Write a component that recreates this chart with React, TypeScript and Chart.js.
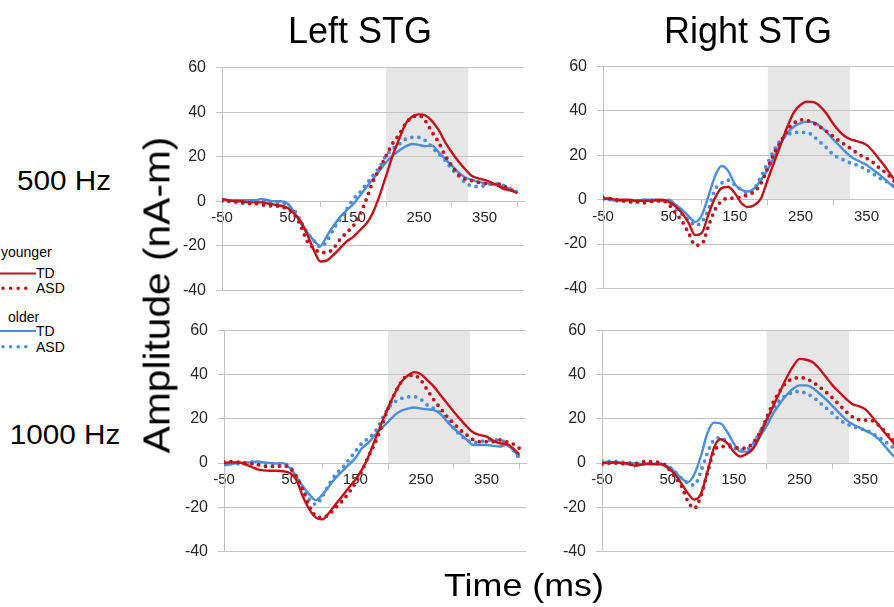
import React, { useEffect, useRef } from 'react';
import { Chart, registerables } from 'chart.js';

Chart.register(...registerables);

const FONT = '"Liberation Sans", Arial, Helvetica, sans-serif';
Chart.defaults.font.family = FONT;

// ---------- data ----------
const TIMES = [-50, -40, -30, -20, -10, 0, 10, 20, 30, 40, 50, 60, 70, 80, 90, 100, 110, 120, 130, 140, 150, 160, 170, 180, 190, 200, 210, 220, 230, 240, 250, 260, 270, 280, 290, 300, 310, 320, 330, 340, 350, 360, 370, 380, 390, 400];

const TL_YOUNGER_TD = [1, 0.5, 0, 0, -0.5, -0.5, -0.5, -1, -1.5, -2, -3, -5.5, -9, -15, -22, -27, -26.5, -24, -21, -18, -16, -13, -10, -5, 2.5, 11.5, 20.5, 28, 35, 38, 39, 38.5, 36, 32, 26.5, 22, 18, 14.5, 11.5, 10.3, 9.6, 8.5, 7, 5.5, 4.8, 3.7];
const TL_YOUNGER_ASD = [0.5, 0, 0, -0.5, -1, -1, -1.5, -2, -2, -2.5, -3.5, -6, -11, -18, -21, -23, -23, -21, -17, -14, -11, -6, 1, 9, 14.5, 20.5, 26, 30, 35, 37.7, 38.5, 36, 31, 26.5, 20.5, 16, 12, 10, 9.3, 8.5, 8, 7.8, 7.8, 6.7, 5.2, 4];
const TL_OLDER_TD = [1, 0.5, 0.5, 0.5, 0.5, 0.5, 1, 0.5, 0, 0, -1, -5, -10, -14, -17.7, -20, -15.4, -11, -7, -4, -1.2, 2.5, 6.3, 10, 13.8, 17.5, 20.5, 22.8, 24.7, 25.7, 25.3, 24.7, 25, 22, 19, 16, 13, 10.8, 9.7, 8.8, 8.2, 7.8, 7.3, 6.3, 5.2, 3.7];
const TL_OLDER_ASD = [0, 0, -0.5, -1, -0.5, 0, 0, -0.5, -0.5, -0.5, -2, -4, -9, -14, -17.7, -20.5, -17.7, -12.4, -8, -3.5, 1, 4, 7.8, 11.5, 15.3, 20.5, 23.5, 25.7, 28, 28.7, 28.7, 27.2, 24.2, 21.3, 18.3, 14.5, 11.5, 8.5, 7, 6.6, 7, 7.8, 7.8, 7, 5.5, 4];

const TR_YOUNGER_TD = [0.5, 0.5, 0, 0, 0, -0.5, -0.5, -0.5, 0, 0, -1, -3, -6, -10.5, -16, -15, -6.7, 0.7, 5.2, 5.7, 3, -1.5, -3.3, -2.4, 0.7, 9, 17, 25, 33, 39.5, 42.8, 44.2, 44, 42, 38.5, 34, 30.5, 28, 26.8, 26, 24.7, 21.7, 18, 14.2, 10, 6];
const TR_YOUNGER_ASD = [1, 0.5, 0, -0.5, -1, -1, -1.5, -1, -0.5, -0.5, -2.2, -6, -9.7, -15, -20.5, -20, -12, -4.5, -0.7, 0.7, 0.7, 1.2, 2.2, 3.7, 7.5, 14.2, 21, 26.2, 31.5, 34.5, 36, 35.7, 34.5, 32.7, 30.7, 28.5, 26.2, 24.3, 22.2, 20.2, 18.7, 16.8, 14.2, 12, 9, 6];
const TR_OLDER_TD = [0.5, 0, -0.5, -0.5, -0.5, -0.5, 0, 0, -0.5, -0.5, 0, -2.2, -4.5, -7.5, -10, -7, 1.5, 10.5, 15.2, 13, 7, 4.5, 3.7, 5.2, 9, 13.5, 19.5, 25.5, 30, 33, 34.5, 35.2, 34.8, 33, 30.3, 27, 24, 21, 18.7, 17.2, 15.7, 13.5, 11.2, 8.7, 6, 3.5];
const TR_OLDER_ASD = [0, 0, -0.5, -0.5, -0.5, -0.5, -0.5, 0, -0.5, -0.5, -1.2, -3.7, -6.7, -9, -11.5, -10, -4.5, 4.5, 7.5, 8.8, 6.7, 4.5, 3, 5.2, 10.5, 16.5, 22.5, 27, 29.2, 30.3, 30.3, 30.3, 28.5, 25.8, 23.2, 20.2, 18.7, 17.2, 16.2, 15, 13.5, 11.7, 9.7, 8.2, 6.5, 5];

const BL_YOUNGER_TD = [0, 0.3, 0.3, -0.3, -1.5, -2.7, -3.3, -3.5, -3.5, -3.7, -4.5, -7.5, -15, -21, -24.7, -25.5, -22.5, -18.7, -15, -11.2, -7.5, -3, 3, 10.5, 18, 25.2, 31.5, 36.7, 39.7, 41.2, 40.2, 37.5, 34.5, 30.7, 27, 23.2, 19.8, 16.5, 13.8, 12.7, 12, 10.2, 9, 8.7, 6.7, 3.7];
const BL_YOUNGER_ASD = [0.5, 0.7, 0.5, 0, -0.3, -0.5, -1.5, -1.5, -1.5, -1.2, -2.2, -6, -12, -19.5, -24, -24.7, -23.2, -20.2, -17.2, -13.5, -9, -3.7, 3, 9, 16.5, 24.7, 31.5, 36.7, 39.7, 39.7, 37.5, 33, 28.5, 24.7, 21, 18, 15, 12.7, 10.5, 9.7, 9.7, 9.7, 10.5, 9.7, 8.7, 6.7];
const BL_OLDER_TD = [-1, -0.5, 0, 0.3, 0.3, 0.7, 0.3, 0, -0.2, 0, -2.2, -6, -10.5, -14.2, -16.8, -14.2, -10.5, -6.7, -3.7, -0.7, 2.2, 6.7, 9.3, 12.7, 15.7, 18.7, 21.7, 23.7, 24.7, 25.2, 24.7, 24.3, 24, 22.2, 18.7, 15.7, 13.2, 10.5, 8.2, 8.2, 8.2, 7.8, 7.5, 8.2, 6, 2.7];
const BL_OLDER_ASD = [0, -0.3, -0.3, 0, 0.5, 0.3, 0, -0.3, -0.3, -0.3, -1.5, -6, -11.2, -16.5, -18.7, -15, -9.7, -5.2, -2.2, 1.5, 5.2, 9, 11.2, 14.2, 19.5, 24.7, 27.7, 29.2, 30, 30, 28.8, 26.2, 24.7, 22.5, 19.5, 15.7, 12.7, 10.5, 9.3, 9.7, 10.2, 10.5, 10.5, 9, 6, 2.2];

const BR_YOUNGER_TD = [0, 0, 0.3, 0, -0.3, -1.2, -0.7, -0.3, -0.5, -0.5, -2.2, -4.8, -9, -13.5, -16.5, -14, -4, 7, 10.8, 9, 5.2, 3, 4.2, 6.7, 12.7, 19.5, 25.8, 32.2, 38.5, 43.8, 47.2, 46.8, 45.7, 42.7, 39, 35.2, 32.2, 29.2, 26.7, 25.8, 24.3, 21, 17.2, 13.5, 10, 6];
const BR_YOUNGER_ASD = [-0.5, 0, 0, -0.3, -0.5, -0.3, 0.5, 0.7, 0.5, 0, -2.2, -6, -10, -17, -20.5, -15, -4.5, 5.2, 7.5, 7.5, 7.2, 6.7, 7, 9.5, 14, 20.5, 27.5, 32.7, 36.5, 38.2, 38.7, 38.2, 36.7, 34.5, 32.2, 29.5, 26.5, 23.5, 21, 19.7, 19.5, 19.2, 17.2, 14.2, 11, 8];
const BR_OLDER_TD = [0.5, 0.5, 0.3, 0, 0, 0, -0.3, -0.3, -0.3, -0.3, -1.5, -3.7, -6.7, -8.7, -5.2, 3, 13.5, 18.3, 18, 14.2, 9, 5.2, 5.2, 7.5, 12, 16.8, 22.5, 27, 30.7, 33.7, 35.2, 35.2, 34, 31.5, 28.8, 25.8, 22.8, 19.8, 17.7, 16.2, 14.7, 13.2, 10.8, 7.5, 4, 1];
const BR_OLDER_ASD = [1, 0.8, 0.8, 0.5, 0.3, 0, -0.3, -0.3, -0.3, -0.3, -1.2, -3.7, -6.7, -9, -10, -4, 4.5, 10.5, 11.5, 9.5, 7, 6, 6.2, 9, 14.2, 19.5, 24.7, 28.5, 30.7, 32, 32.5, 31.5, 30, 27.5, 25, 22.5, 19.7, 18, 16.7, 15.7, 15, 13.5, 11.7, 9.7, 7.5, 5];

const Y_TICKS = [-40, -20, 0, 20, 40, 60];
const X_TICKS = [-50, 0, 50, 100, 150, 200, 250, 300, 350, 400];
const X_LABELS = [-50, 50, 150, 250, 350];
const X_TICK_MARKS = [0, 100, 200, 300, 400];
const SHADE_START = 200;
const SHADE_END = 325;
const SHADE_TOP = 60;
const SHADE_BOTTOM = 0;

// ---------- styles ----------
const RED = '#c4121a';
const BLUE = '#4a8ddb';
const GRID = '#c3c3c3';
const SHADE = '#e6e6e6';
const TICK_TEXT = '#262626';

const Y_AXIS_W = 50;
const PAD_T = 14;
const PAD_B = 14;
const PAD_R = 6;
// measured extra offset of the plot area from the canvas edges
const OFF_T = 19;
const OFF_B = 20;

type PanelSpec = {
  axisX: number;
  areaTop: number;
  areaBottom: number;
  areaRight: number;
  series: number[][];
};

const PANELS: PanelSpec[] = [
  { axisX: 222, areaTop: 67, areaBottom: 290, areaRight: 524, series: [TL_YOUNGER_TD, TL_YOUNGER_ASD, TL_OLDER_TD, TL_OLDER_ASD] },
  { axisX: 603, areaTop: 66, areaBottom: 288, areaRight: 906, series: [TR_YOUNGER_TD, TR_YOUNGER_ASD, TR_OLDER_TD, TR_OLDER_ASD] },
  { axisX: 224, areaTop: 330, areaBottom: 551, areaRight: 526, series: [BL_YOUNGER_TD, BL_YOUNGER_ASD, BL_OLDER_TD, BL_OLDER_ASD] },
  { axisX: 602, areaTop: 330, areaBottom: 551, areaRight: 905, series: [BR_YOUNGER_TD, BR_YOUNGER_ASD, BR_OLDER_TD, BR_OLDER_ASD] },
];

const SERIES_STYLE = [
  { color: RED, dotted: false },
  { color: RED, dotted: true },
  { color: BLUE, dotted: false },
  { color: BLUE, dotted: true },
];

const shadePlugin = {
  id: 'shadeWindow',
  beforeDraw(chart: any) {
    const { ctx, scales } = chart;
    const x = scales.x;
    const y = scales.y;
    const x0 = x.getPixelForValue(SHADE_START);
    const x1 = x.getPixelForValue(SHADE_END);
    const y0 = y.getPixelForValue(SHADE_TOP);
    const y1 = y.getPixelForValue(SHADE_BOTTOM);
    ctx.save();
    ctx.fillStyle = SHADE;
    ctx.fillRect(x0, y0, x1 - x0, y1 - y0);
    ctx.restore();
  },
};

function Panel({ spec }: { spec: PanelSpec }) {
  const ref = useRef<HTMLCanvasElement>(null);
  const left = spec.axisX - Y_AXIS_W;
  const top = spec.areaTop - OFF_T;
  const width = spec.areaRight - left + PAD_R;
  const height = spec.areaBottom - spec.areaTop + OFF_T + OFF_B;

  useEffect(() => {
    if (!ref.current) return;
    const datasets = spec.series.map((vals, i) => {
      const st = SERIES_STYLE[i];
      return {
        data: TIMES.map((t, k) => ({ x: t, y: vals[k] })),
        borderColor: st.color,
        backgroundColor: st.color,
        borderWidth: st.dotted ? 3.8 : 2.4,
        borderDash: st.dotted ? [0, 7] : [],
        borderCapStyle: st.dotted ? 'round' : 'butt',
        borderJoinStyle: 'round',
        pointRadius: 0,
        fill: false,
        cubicInterpolationMode: 'monotone',
      };
    });
    const chart = new Chart(ref.current, {
      type: 'line',
      data: { datasets } as any,
      plugins: [shadePlugin],
      options: {
        animation: false,
        responsive: false,
        maintainAspectRatio: false,
        layout: { padding: { top: PAD_T, bottom: PAD_B, right: PAD_R, left: 0 } },
        plugins: { legend: { display: false }, tooltip: { enabled: false } },
        scales: {
          x: {
            type: 'linear',
            position: { y: 0 } as any,
            min: -50,
            max: 410,
            afterBuildTicks: (s: any) => {
              s.ticks = X_TICKS.map((v) => ({ value: v }));
            },
            ticks: {
              autoSkip: false,
              maxRotation: 0,
              minRotation: 0,
              color: TICK_TEXT,
              padding: 3,
              font: { size: 15, family: FONT },
              callback: (v: any) => (X_LABELS.includes(Number(v)) ? String(v) : ''),
            },
            grid: {
              drawOnChartArea: false,
              drawTicks: true,
              tickLength: 5,
              lineWidth: 1,
              color: (ctx: any) => (ctx.tick && X_TICK_MARKS.includes(ctx.tick.value) ? GRID : 'rgba(0,0,0,0)'),
            },
            border: { display: true, color: GRID, width: 1 },
          },
          y: {
            type: 'linear',
            min: -40,
            max: 60,
            afterFit: (s: any) => {
              s.width = Y_AXIS_W;
            },
            afterBuildTicks: (s: any) => {
              s.ticks = Y_TICKS.map((v) => ({ value: v }));
            },
            ticks: {
              color: TICK_TEXT,
              padding: 10,
              font: { size: 16, family: FONT },
            },
            grid: { color: GRID, lineWidth: 1, drawTicks: true, tickLength: 6 },
            border: { display: true, color: GRID, width: 1 },
          },
        },
      } as any,
    });
    return () => chart.destroy();
  }, []);

  return (
    <canvas
      ref={ref}
      width={width}
      height={height}
      style={{ position: 'absolute', left, top, width, height, display: 'block' }}
    />
  );
}

function Text({ children, x, baseline, size, align = 'center', sx = 1, color = '#000' }: any) {
  const top = baseline - 0.8465 * size;
  const tx = align === 'center' ? '-50%' : '0';
  return (
    <div
      style={{
        position: 'absolute',
        left: x,
        top,
        fontSize: size,
        lineHeight: `${size}px`,
        whiteSpace: 'nowrap',
        color,
        transform: `translateX(${tx}) scaleX(${sx})`,
        transformOrigin: align === 'center' ? 'center' : 'left',
      }}
    >
      {children}
    </div>
  );
}

export default function App() {
  return (
    <div
      style={{
        position: 'fixed',
        left: 0,
        top: 0,
        width: 894,
        height: 607,
        overflow: 'hidden',
        background: '#fff',
        fontFamily: FONT,
      }}
    >
      {PANELS.map((p, i) => (
        <Panel key={i} spec={p} />
      ))}

      <Text x={360} baseline={43} size={36}>Left STG</Text>
      <Text x={748} baseline={43} size={36}>Right STG</Text>
      <Text x={64} baseline={191} size={27} sx={1.1}>500 Hz</Text>
      <Text x={65} baseline={445} size={27} sx={1.1}>1000 Hz</Text>
      <Text x={524} baseline={596} size={32} sx={1.12}>Time (ms)</Text>

      <div
        style={{
          position: 'absolute',
          left: 157,
          top: 295,
          fontSize: 37,
          lineHeight: '37px',
          whiteSpace: 'nowrap',
          color: '#000',
          transform: 'translate(-50%, -50%) rotate(-90deg) scaleX(1.1)',
        }}
      >
        Amplitude (nA-m)
      </div>

      {/* legend */}
      <svg style={{ position: 'absolute', left: 0, top: 260 }} width={40} height={100}>
        <line x1={0} y1={13.5} x2={36} y2={13.5} stroke={RED} strokeWidth={2.2} />
        <line x1={3} y1={28.3} x2={33} y2={28.3} stroke={RED} strokeWidth={3.6} strokeDasharray="0 7.6" strokeLinecap="round" />
        <line x1={0} y1={71} x2={36} y2={71} stroke={BLUE} strokeWidth={2.2} />
        <line x1={3} y1={86.7} x2={33} y2={86.7} stroke={BLUE} strokeWidth={3.6} strokeDasharray="0 7.6" strokeLinecap="round" />
      </svg>
      <Text x={1} baseline={256.5} size={14} align="left">younger</Text>
      <Text x={36} baseline={278} size={14} align="left">TD</Text>
      <Text x={36} baseline={293} size={14} align="left">ASD</Text>
      <Text x={8} baseline={322} size={14} align="left">older</Text>
      <Text x={36} baseline={336} size={14} align="left">TD</Text>
      <Text x={36} baseline={352} size={14} align="left">ASD</Text>
    </div>
  );
}
